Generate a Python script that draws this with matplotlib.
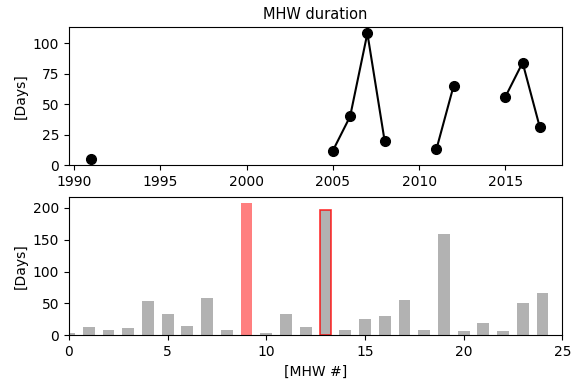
import numpy as np
import matplotlib
matplotlib.use("Agg")
import matplotlib.pyplot as plt
from matplotlib.ticker import MultipleLocator

# duração anual das ondas de calor marinhas (NaN = ano sem evento)
anos = list(range(1991, 2018))
duracao_anual = [5, np.nan, np.nan, np.nan, np.nan, np.nan, np.nan, np.nan,
                 np.nan, np.nan, np.nan, np.nan, np.nan, np.nan,
                 12, 40, 108, 20, np.nan, np.nan, 13, 65, np.nan, np.nan,
                 56, 84, 31]

# duração de cada evento individual
eventos = list(range(25))
duracao_evento = [4, 13, 9, 11, 54, 33, 14, 58, 8, 207, 4, 34, 13, 197, 9,
                  25, 30, 56, 9, 159, 6, 20, 6, 51, 66]
ev_maior = 9
ev_destaque = 13

fig = plt.figure(figsize=(5.72, 3.83), dpi=100)
ax1 = fig.add_axes([0.1206, 0.5684, 0.8624, 0.3611])
ax2 = fig.add_axes([0.1206, 0.1245, 0.8624, 0.3619])

ax1.plot(anos, duracao_anual, "k-o", markersize=7, linewidth=1.5)
ax1.set_ylim(bottom=0)
ax1.yaxis.set_major_locator(MultipleLocator(25))
ax1.set_ylabel("[Days]")
ax1.set_title("MHW duration", fontsize=10.5)

# barras cinza para todos os eventos menos o mais longo
outros = [i for i in eventos if i != ev_maior]
ax2.bar(outros, [duracao_evento[i] for i in outros], width=0.6,
        color="0.5", alpha=0.6)
ax2.bar(ev_maior, duracao_evento[ev_maior], width=0.6, color="red", alpha=0.5)
ax2.bar(ev_destaque, duracao_evento[ev_destaque], width=0.6, color="none",
        edgecolor="red", linewidth=1.2, alpha=0.8)
ax2.set_xlim(0, 25)
ax2.yaxis.set_major_locator(MultipleLocator(50))
ax2.set_ylabel("[Days]")
ax2.set_xlabel("[MHW #]")

fig.savefig("out.png", dpi=100)
